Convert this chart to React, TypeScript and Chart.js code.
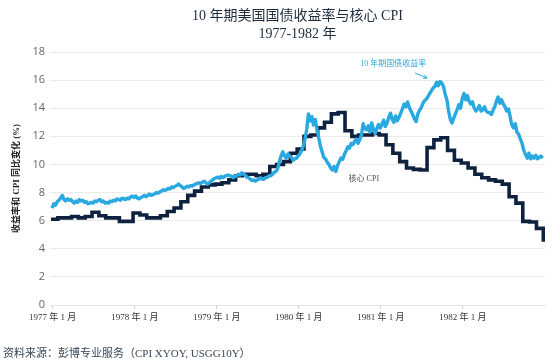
import React, { useEffect, useRef } from 'react';
import { Chart, registerables } from 'chart.js';

Chart.register(...registerables);

const titleLines = ['10 年期美国国债收益率与核心 CPI', '1977-1982 年'];
const yAxisTitle = '收益率和 CPI 同比变化 (%)';
const sourceNote = '资料来源：彭博专业服务（CPI XYOY, USGG10Y）';
const yieldLabel = '10 年期国债收益率';
const cpiLabel = '核心 CPI';

const xTickMonths = [0, 12, 24, 36, 48, 60];
const xTickLabels = ['1977 年 1 月', '1978 年 1 月', '1979 年 1 月', '1980 年 1 月', '1981 年 1 月', '1982 年 1 月'];

// 10-year Treasury yield, roughly weekly (4 readings per month)
const yield1977 = [6.9, 7.2, 7.1, 7.35, 7.45, 7.6, 7.8, 7.5, 7.4, 7.55, 7.45, 7.5, 7.35, 7.25, 7.4, 7.3, 7.5, 7.4, 7.45, 7.3, 7.35, 7.2, 7.25, 7.3, 7.25, 7.4, 7.35, 7.45, 7.5, 7.35, 7.4, 7.25, 7.3, 7.25, 7.4, 7.35, 7.45, 7.4, 7.55, 7.5, 7.45, 7.6, 7.55, 7.5, 7.6, 7.55, 7.7, 7.75];
const yield1978 = [7.65, 7.75, 7.6, 7.55, 7.65, 7.7, 7.8, 7.7, 7.8, 7.9, 7.8, 7.85, 7.9, 8.0, 7.95, 8.05, 8.1, 8.2, 8.15, 8.2, 8.3, 8.25, 8.4, 8.35, 8.45, 8.5, 8.6, 8.5, 8.4, 8.3, 8.35, 8.45, 8.4, 8.5, 8.45, 8.55, 8.6, 8.65, 8.7, 8.65, 8.75, 8.8, 8.7, 8.6, 8.7, 8.8, 8.9, 9.0];
const yield1979 = [9.05, 9.1, 9.0, 9.15, 9.05, 9.15, 9.2, 9.25, 9.2, 9.15, 9.05, 9.15, 9.2, 9.3, 9.25, 9.4, 9.3, 9.25, 9.1, 9.05, 8.95, 8.85, 8.9, 8.8, 8.9, 8.95, 9.05, 8.95, 8.95, 9.05, 9.1, 9.2, 9.2, 9.3, 9.45, 9.5, 9.7, 10.2, 10.6, 10.9, 10.6, 10.45, 10.75, 10.6, 10.5, 10.3, 10.4, 10.45];
const yield1980 = [10.6, 10.75, 11.0, 11.3, 11.8, 12.5, 13.6, 13.1, 13.4, 12.8, 13.2, 12.5, 11.9, 11.3, 10.9, 10.5, 10.4, 10.15, 10.0, 9.75, 9.6, 9.85, 9.5, 9.9, 10.2, 10.45, 10.35, 10.7, 10.95, 11.25, 11.15, 11.5, 11.4, 11.65, 11.8, 11.5, 11.75, 12.1, 12.9, 12.55, 12.45, 12.75, 12.3, 12.95, 12.5, 12.2, 12.55, 12.85];
const yield1981 = [12.6, 12.85, 13.15, 12.7, 12.95, 13.35, 13.65, 13.2, 13.0, 13.45, 13.1, 13.35, 13.65, 13.95, 14.3, 14.1, 14.45, 14.05, 13.8, 13.55, 13.25, 13.05, 13.6, 13.85, 14.05, 14.35, 14.55, 14.65, 14.85, 15.05, 15.25, 15.45, 15.55, 15.85, 15.6, 15.9, 15.8, 15.55, 15.0, 14.6, 13.8, 13.2, 12.95, 13.3, 13.6, 13.9, 14.25, 14.0];
const yield1982 = [14.7, 15.05, 14.6, 14.9, 14.5, 14.3, 14.45, 14.0, 13.8, 13.95, 14.2, 13.8, 13.9, 14.1, 13.8, 13.7, 13.7, 13.55, 13.85, 14.1, 14.5, 14.8, 14.35, 14.6, 14.3, 14.1, 13.8, 13.95, 13.4, 12.8, 12.6, 12.9, 12.3, 12.15, 11.8, 11.5, 11.0, 10.7, 10.45, 10.8, 10.4, 10.6, 10.45, 10.65, 10.4, 10.5, 10.6, 10.45];

// Core CPI year-over-year, monthly
const cpi1977 = [6.1, 6.2, 6.2, 6.3, 6.2, 6.3, 6.6, 6.35, 6.2, 6.2, 5.95, 5.95];
const cpi1978 = [6.55, 6.4, 6.2, 6.2, 6.35, 6.65, 6.9, 7.35, 7.8, 8.1, 8.4, 8.55];
const cpi1979 = [8.6, 8.7, 8.9, 9.2, 9.3, 9.3, 9.2, 9.3, 9.85, 10.0, 10.2, 10.8];
const cpi1980 = [11.1, 12.0, 12.1, 12.6, 13.0, 13.6, 13.7, 12.4, 12.0, 12.1, 12.1, 12.2];
const cpi1981 = [12.1, 11.4, 10.8, 10.2, 9.75, 9.65, 9.6, 11.2, 11.75, 11.9, 11.0, 10.3];
const cpi1982 = [10.1, 9.75, 9.3, 9.05, 8.9, 8.8, 8.6, 7.7, 7.25, 5.95, 5.9, 5.45];
const cpiEnd = [4.5];

const BLUE = '#2AA8E0';
const NAVY = '#0E2240';
const SERIF = '"Liberation Serif", "DejaVu Serif", "Noto Sans CJK SC", serif';

const textPlugin = {
  id: 'chartTexts',
  afterDraw(chart: any) {
    const { ctx, chartArea, scales } = chart;
    const xs = scales.x;
    const ys = scales.y;
    const cx = (chartArea.left + chartArea.right) / 2;
    ctx.save();
    ctx.textAlign = 'center';
    ctx.textBaseline = 'middle';
    ctx.fillStyle = '#1d2b3c';
    ctx.font = '14px ' + SERIF;
    ctx.fillText(titleLines[0], cx, 16);
    ctx.fillText(titleLines[1], cx, 34);

    ctx.save();
    ctx.translate(17, (chartArea.top + chartArea.bottom) / 2);
    ctx.rotate(-Math.PI / 2);
    ctx.font = 'bold 9px ' + SERIF;
    ctx.fillStyle = '#222';
    ctx.fillText(yAxisTitle, 0, 0);
    ctx.restore();

    ctx.textAlign = 'left';
    ctx.font = '11px ' + SERIF;
    ctx.fillStyle = '#3a4656';
    ctx.fillText(sourceNote, 3, 354);

    ctx.textAlign = 'center';
    ctx.font = '8px ' + SERIF;
    ctx.fillStyle = BLUE;
    ctx.fillText(yieldLabel, xs.getPixelForValue(49.8), ys.getPixelForValue(17.15));
    const ax0 = xs.getPixelForValue(53.0), ay0 = ys.getPixelForValue(16.5);
    const ax1 = xs.getPixelForValue(54.75), ay1 = ys.getPixelForValue(16.15);
    ctx.strokeStyle = BLUE;
    ctx.lineWidth = 1;
    ctx.beginPath();
    ctx.moveTo(ax0, ay0);
    ctx.lineTo(ax1, ay1);
    const ang = Math.atan2(ay1 - ay0, ax1 - ax0);
    ctx.moveTo(ax1, ay1);
    ctx.lineTo(ax1 - 4 * Math.cos(ang - 0.5), ay1 - 4 * Math.sin(ang - 0.5));
    ctx.moveTo(ax1, ay1);
    ctx.lineTo(ax1 - 4 * Math.cos(ang + 0.5), ay1 - 4 * Math.sin(ang + 0.5));
    ctx.stroke();

    ctx.fillStyle = '#4a4a4a';
    ctx.font = '8px ' + SERIF;
    ctx.fillText(cpiLabel, xs.getPixelForValue(45.5), ys.getPixelForValue(8.98));
    ctx.restore();
  },
};

export default function App() {
  const ref = useRef<HTMLCanvasElement | null>(null);
  useEffect(() => {
    if (!ref.current) return;
    const yieldAll = [...yield1977, ...yield1978, ...yield1979, ...yield1980, ...yield1981, ...yield1982];
    const cpiAll = [...cpi1977, ...cpi1978, ...cpi1979, ...cpi1980, ...cpi1981, ...cpi1982, ...cpiEnd];
    const yieldPoints = yieldAll.map((v, i) => ({ x: i / 4 - 0.1, y: v }));
    const cpiPoints = cpiAll.map((v, i) => ({ x: i - 0.25, y: v }));
    const chart = new Chart(ref.current, {
      type: 'line',
      data: {
        datasets: [
          {
            label: yieldLabel,
            data: yieldPoints,
            borderColor: BLUE,
            backgroundColor: BLUE,
            borderWidth: 3.4,
            pointRadius: 0,
            borderJoinStyle: 'round',
            tension: 0,
          },
          {
            label: cpiLabel,
            data: cpiPoints,
            borderColor: NAVY,
            backgroundColor: NAVY,
            borderWidth: 3.6,
            pointRadius: 0,
            stepped: 'before',
            borderJoinStyle: 'miter',
          },
        ],
      },
      options: {
        animation: false,
        responsive: false,
        layout: { padding: { top: 52, right: 15, left: 0, bottom: 0 } },
        plugins: {
          legend: { display: false },
          tooltip: { enabled: false },
          title: { display: false },
        },
        scales: {
          x: {
            type: 'linear',
            min: -0.4,
            max: 72,
            afterBuildTicks: (s: any) => {
              s.ticks = xTickMonths.map((v) => ({ value: v }));
            },
            afterFit: (s: any) => {
              s.height = 59;
            },
            ticks: {
              autoSkip: false,
              maxRotation: 0,
              padding: 3,
              color: '#333',
              font: { family: SERIF, size: 9 },
              callback: (_v: any, i: number) => xTickLabels[i],
            },
            grid: { drawOnChartArea: false, drawTicks: true, tickLength: 4, color: '#cfcfcf' },
            border: { display: true, color: '#e6e6e6' },
          },
          y: {
            min: 0,
            max: 18,
            afterFit: (s: any) => {
              s.width = 50;
            },
            ticks: {
              stepSize: 2,
              padding: 5,
              color: '#666',
              font: { family: '"Open Sans", sans-serif', size: 11 },
            },
            grid: { color: '#ebebeb', drawTicks: false },
            border: { display: false },
          },
        },
      },
      plugins: [textPlugin],
    } as any);
    return () => chart.destroy();
  }, []);
  return (
    <div style={{ position: 'absolute', left: 0, top: 0, width: 560, height: 364, background: '#fff' }}>
      <canvas ref={ref} width={560} height={364} style={{ width: 560, height: 364, display: 'block' }} />
    </div>
  );
}
